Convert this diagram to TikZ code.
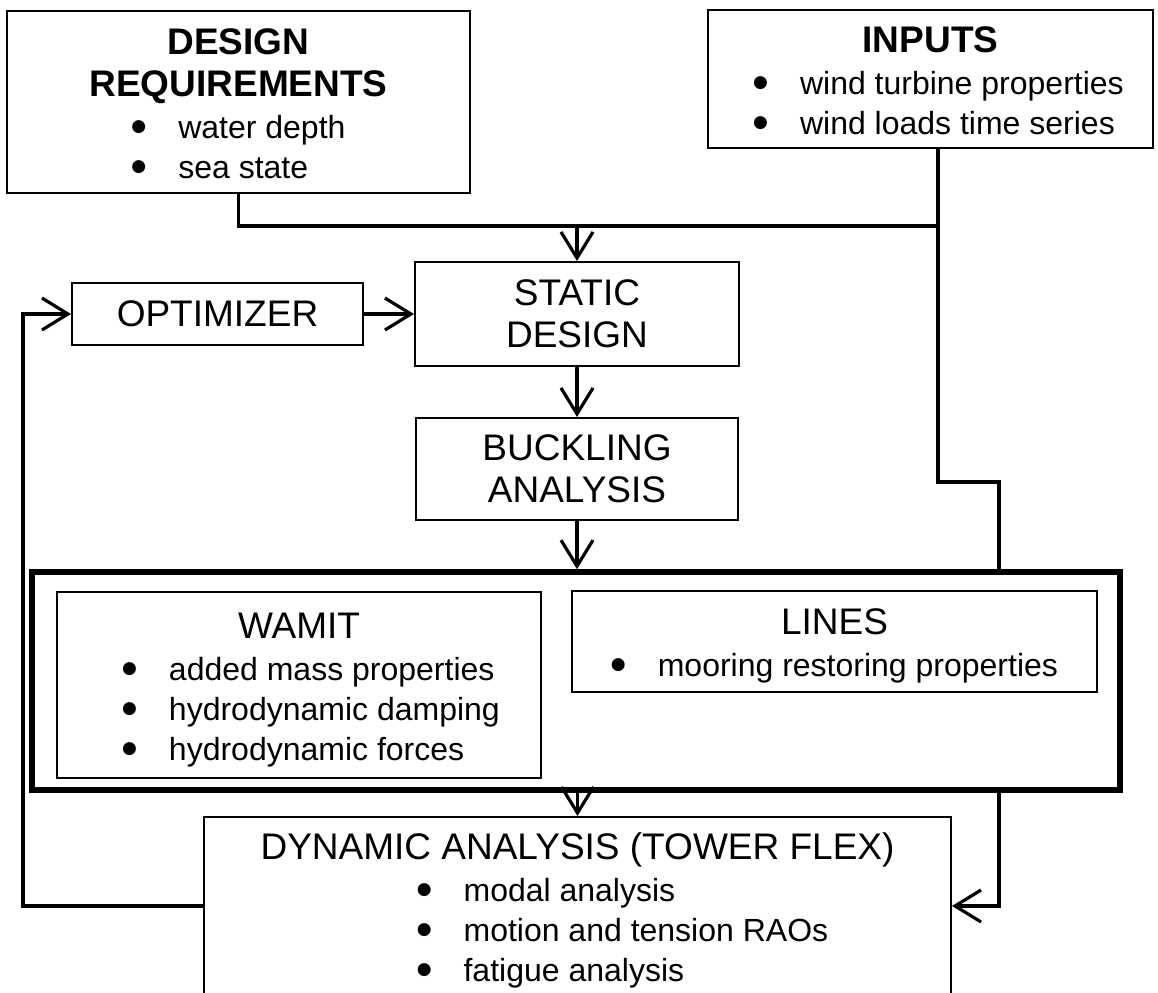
\documentclass[tikz,border=0pt]{standalone}
\usepackage{fontspec}
\setmainfont{Liberation Sans}
\newfontfamily\symfont{DejaVu Sans}
\usetikzlibrary{arrows.meta,calc}
\newcommand\hd{\fontsize{18.5}{21}\selectfont}
\newcommand\bl{\fontsize{16}{20}\selectfont}
\newcommand\tstrut{\rule{0pt}{20pt}}
\newcommand\blt{\raisebox{3.5pt}{\symfont\fontsize{8.5}{9}\selectfont ●}}
\newcommand\items[1]{\bl\begin{tabular}[t]{@{}l@{\hspace{16pt}}l@{}}#1\end{tabular}}
\tikzset{
    box/.style={draw, line width=1pt, align=center, font=\hd, inner sep=0pt},
    link/.style={line width=1.6pt},
    flow/.style={link, -{Straight Barb[length=13pt,width=16pt]}},
}

\begin{document}
\begin{tikzpicture}[x=0.5pt,y=-0.5pt]
    \useasboundingbox (0,0) rectangle (1158,992);
    \clip (0,0) rectangle (1158,992);
    \node[box, minimum width=231.5pt, minimum height=91pt] (design) at (238.5,102)
        {\tstrut\textbf{DESIGN}\\\textbf{REQUIREMENTS}\\\items{\blt & water depth\\ \blt & sea state}};
    \node[box, minimum width=222.5pt, minimum height=69pt] (inputs) at (930.5,79)
        {\tstrut\textbf{INPUTS}\\\hspace*{8pt}\items{\blt & wind turbine properties\\ \blt & wind loads time series}};
    \node[box, minimum width=145.5pt, minimum height=31pt] (optim) at (217.5,314) {OPTIMIZER};
    \node[box, minimum width=162pt, minimum height=52pt] (static) at (577,314) {STATIC\\DESIGN};
    \node[box, minimum width=161pt, minimum height=51pt] (buckle) at (577,469) {BUCKLING\\ANALYSIS};
    \node[box, line width=2.8pt, minimum width=544pt, minimum height=109pt] (frame) at (576,681) {};
    \node[box, minimum width=242pt, minimum height=93pt] (wamit) at (299,685)
        {\tstrut WAMIT\\\hspace*{12pt}\items{\blt & added mass properties\\ \blt & hydrodynamic damping\\ \blt & hydrodynamic forces}};
    \node[box, minimum width=262.5pt, minimum height=50.5pt] (lines) at (834.5,641.5)
        {\tstrut LINES\\\items{\blt & mooring restoring properties}};
    \node[box, minimum width=373.5pt, minimum height=89pt] (dyn) at (577.5,906)
        {\tstrut DYNAMIC ANALYSIS (TOWER FLEX)\\\hspace*{45pt}\items{\blt & modal analysis\\ \blt & motion and tension RAOs\\ \blt & fatigue analysis}};

    \coordinate (bus) at (938,226);
    \coordinate (jog) at (999,482);
    \coordinate (back) at (23,600);

    \draw[link] (design.south) |- (bus);
    \draw[link] (bus |- inputs.south) |- (jog) -- (jog |- frame.north);
    \draw[flow] (static.north |- bus) -- (static.north);
    \draw[flow] (optim) -- (static);
    \draw[flow] (static) -- (buckle);
    \draw[flow] (buckle.south) -- (buckle.south |- frame.north);
    \draw[flow] (dyn.north |- frame.south) -- (dyn.north);
    \draw[flow] (jog |- frame.south) |- (dyn.east);
    \draw[flow] (dyn.west) -| (back) |- (optim.west);
\end{tikzpicture}
\end{document}
